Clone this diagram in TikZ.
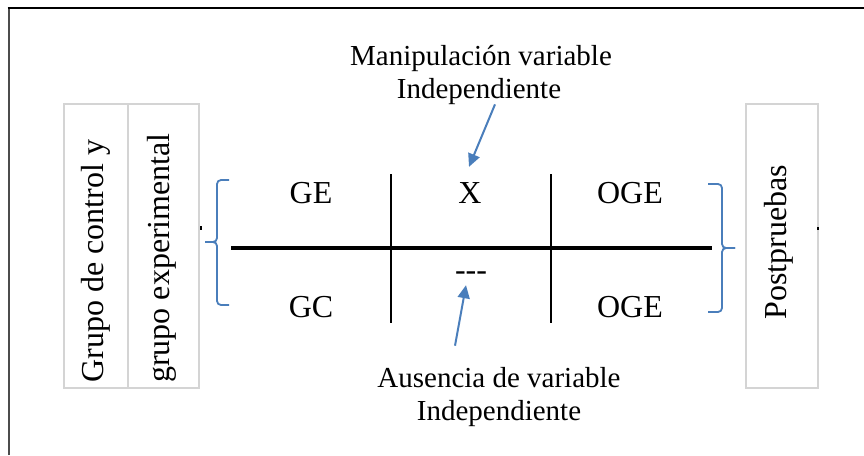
\documentclass[tikz,border=0pt]{standalone}
\usepackage{fontspec}
\setmainfont{Liberation Serif}
\usetikzlibrary{arrows.meta}
\definecolor{braceblue}{HTML}{4A7EBB}
\definecolor{boxgray}{HTML}{D4D4D4}
\begin{document}
\begin{tikzpicture}[x=1pt,y=-1pt,
  txt/.style={font=\fontsize{32}{38}\selectfont, inner sep=0pt},
  lab/.style={font=\fontsize{29}{34}\selectfont, inner sep=0pt},
  graybox/.style={draw=boxgray, line width=2.5pt},
  bracestyle/.style={draw=braceblue, line width=1.8pt, rounded corners=4pt},
  arr/.style={draw=braceblue, line width=2pt, -{Triangle[length=13pt,width=12pt]}},
  gridline/.style={line width=2.4pt}]
\useasboundingbox (0,0) rectangle (864,455);
% outer frame (top and left edges visible)
\draw[line width=2pt, draw=black!70] (8.5,455) -- (8.5,7.5);
\draw[line width=2pt] (7.5,7.5) -- (864,7.5);
% left box
\draw[graybox] (64,104) rectangle (199,388);
\draw[graybox] (128,104) -- (128,388);
% right box
\draw[graybox] (746,104) rectangle (818,388);
% tiny marks
\fill (199.5,226) rectangle (202,229.5);
\fill (816.8,226.5) rectangle (819.2,229.5);
% grid
\draw[line width=3.2pt] (231,248) -- (712,248);
\draw[gridline] (391,174) -- (391,323);
\draw[gridline] (551,174) -- (551,323);
% braces
\draw[bracestyle] (229,180) -- (217,180) -- (217,242) -- (205,242);
\draw[bracestyle] (205,242) -- (217,242) -- (217,305) -- (229,305);
\draw[bracestyle] (708,184) -- (722,184) -- (722,248) -- (735,248);
\draw[bracestyle] (735,248) -- (722,248) -- (722,312) -- (708,312);
% rotated texts
\node[txt, rotate=90] (grupo1) at (96,261) {Grupo de control y};
\node[txt, rotate=90] (grupo2) at (162,258) {grupo experimental};
\node[txt, rotate=90] (post) at (779,242) {Postpruebas};
% cells
\node[txt, anchor=base] (ge) at (311,203) {GE};
\node[txt, anchor=base] (x) at (470,203) {X};
\node[txt, anchor=base] (oge1) at (630,203) {OGE};
\node[txt, anchor=base] (gc) at (311,317) {GC};
\node[txt, anchor=base] (none) at (471,280) {\hbox{-}\hbox{-}\hbox{-}};
\node[txt, anchor=base] (oge2) at (630,317) {OGE};
% labels
\node[lab, anchor=base] (m1) at (481,65) {Manipulación variable};
\node[lab, anchor=base] (m2) at (479,98) {Independiente};
\node[lab, anchor=base] (a1) at (499,387) {Ausencia de variable};
\node[lab, anchor=base] (a2) at (499,420) {Independiente};
% arrows
\draw[arr] ([xshift=16pt]m2.south) -- ([xshift=-1pt,yshift=15pt]x.north);
\draw[arr] ([xshift=-44pt,yshift=21pt]a1.north) -- ([xshift=-5pt,yshift=-5pt]none.south);
\end{tikzpicture}
\end{document}
